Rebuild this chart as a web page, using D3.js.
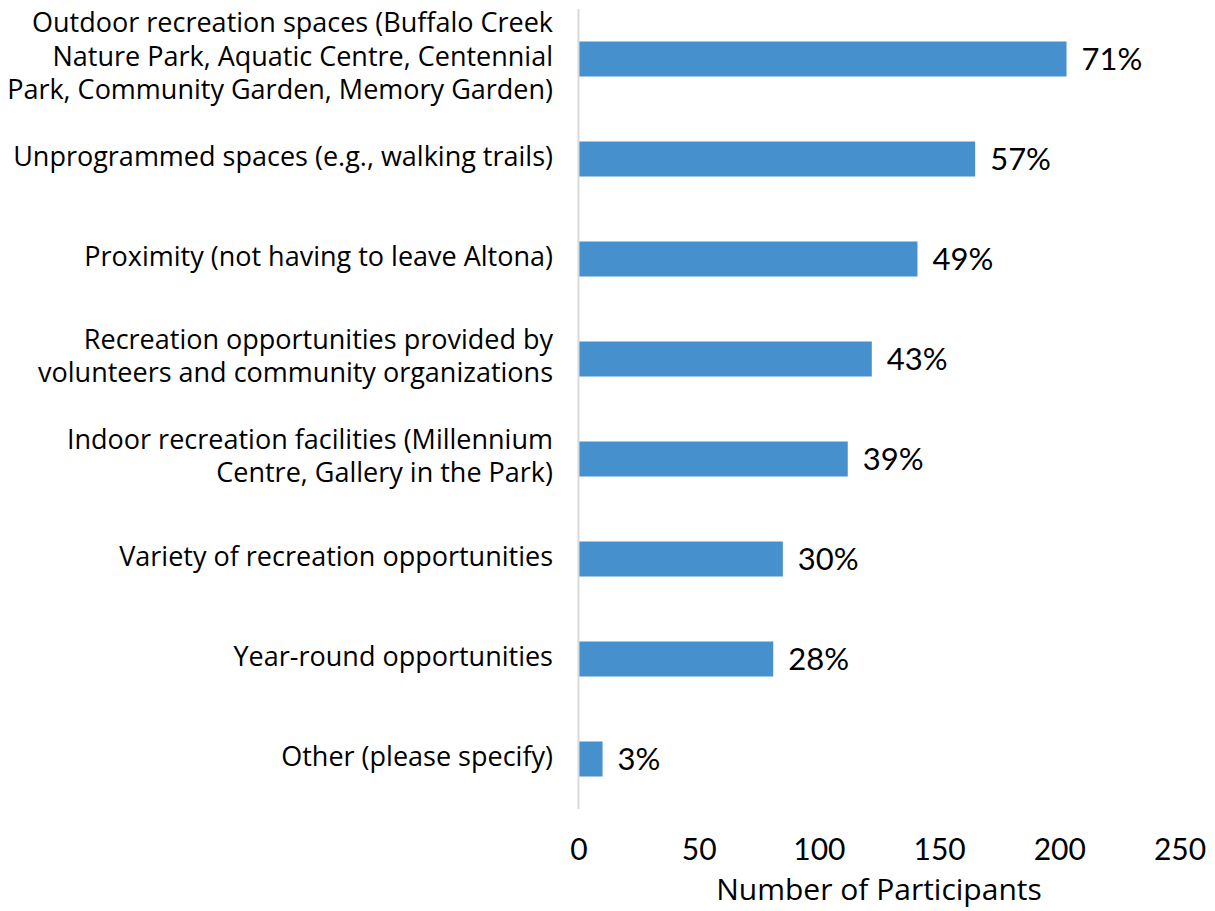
<!DOCTYPE html>
<html>
<head>
<meta charset="utf-8">
<script src="https://cdn.jsdelivr.net/npm/d3@7"></script>
<style>
  html, body { margin: 0; padding: 0; background: #fff; }
  svg { display: block; font-family: "Lato", "Open Sans", sans-serif; }
</style>
</head>
<body>
<svg id="chart" width="1215" height="911"></svg>
<script>
const categories = [
  ["Outdoor recreation spaces (Buffalo Creek", "Nature Park, Aquatic Centre, Centennial", "Park, Community Garden, Memory Garden)"],
  ["Unprogrammed spaces (e.g., walking trails)"],
  ["Proximity (not having to leave Altona)"],
  ["Recreation opportunities provided by", "volunteers and community organizations"],
  ["Indoor recreation facilities (Millennium", "Centre, Gallery in the Park)"],
  ["Variety of recreation opportunities"],
  ["Year-round opportunities"],
  ["Other (please specify)"]
];
const participants = [203, 165, 141, 122, 112, 85, 81, 10];
const percentLabels = ["71%", "57%", "49%", "43%", "39%", "30%", "28%", "3%"];
const xTicks = [0, 50, 100, 150, 200, 250];
const xTitle = "Number of Participants";

const svg = d3.select("#chart");
const plotLeft = 578.5, plotRight = 1179.5, plotTop = 9, plotBottom = 809;
const labelFont = "'Open Sans', Lato, sans-serif";

const x = d3.scaleLinear().domain([0, 250]).range([plotLeft, plotRight]);
const y = d3.scaleBand().domain(d3.range(categories.length))
  .range([plotTop, plotBottom]).paddingInner(0.65).paddingOuter(0.325);

// bars
svg.append("g").selectAll("rect").data(participants).join("rect")
  .attr("x", x(0))
  .attr("y", (d, i) => y(i))
  .attr("width", d => x(d) - x(0))
  .attr("height", y.bandwidth())
  .attr("fill", "#4690cd");

// vertical axis line
svg.append("line")
  .attr("x1", x(0)).attr("x2", x(0))
  .attr("y1", plotTop).attr("y2", plotBottom)
  .attr("stroke", "#d9d9d9").attr("stroke-width", 2);

// value labels
svg.append("g").selectAll("text").data(participants).join("text")
  .attr("x", d => x(d) + 15)
  .attr("y", (d, i) => y(i) + y.bandwidth() / 2)
  .attr("dy", "0.36em")
  .attr("font-family", "Lato, 'Open Sans', sans-serif")
  .attr("font-size", 31)
  .attr("fill", "#000")
  .text((d, i) => percentLabels[i]);

// category labels
const lineH = 33.5;
const catG = svg.append("g");
categories.forEach((lines, i) => {
  const cy = y(i) + y.bandwidth() / 2;
  const t = catG.append("text")
    .attr("text-anchor", "end")
    .attr("font-family", labelFont)
    .attr("font-size", 27)
    .attr("fill", "#000");
  lines.forEach((ln, j) => {
    t.append("tspan")
      .attr("x", 553)
      .attr("y", cy + (j - (lines.length - 1) / 2) * lineH - 3)
      .attr("dy", "0.36em")
      .text(ln);
  });
});

// x axis ticks
const xAxis = d3.axisBottom(x).tickValues(xTicks).tickSize(0).tickPadding(0);
const gx = svg.append("g").attr("transform", `translate(0, ${plotBottom})`).call(xAxis);
gx.select(".domain").remove();
gx.selectAll("text")
  .attr("font-family", "Lato, 'Open Sans', sans-serif")
  .attr("font-size", 30)
  .attr("fill", "#000")
  .attr("y", 40)
  .attr("dy", "0.36em");

// axis title
svg.append("text")
  .attr("x", (plotLeft + plotRight) / 2)
  .attr("y", 889)
  .attr("dy", "0.36em")
  .attr("text-anchor", "middle")
  .attr("font-family", labelFont)
  .attr("font-size", 30)
  .attr("fill", "#000")
  .text(xTitle);
</script>
</body>
</html>
